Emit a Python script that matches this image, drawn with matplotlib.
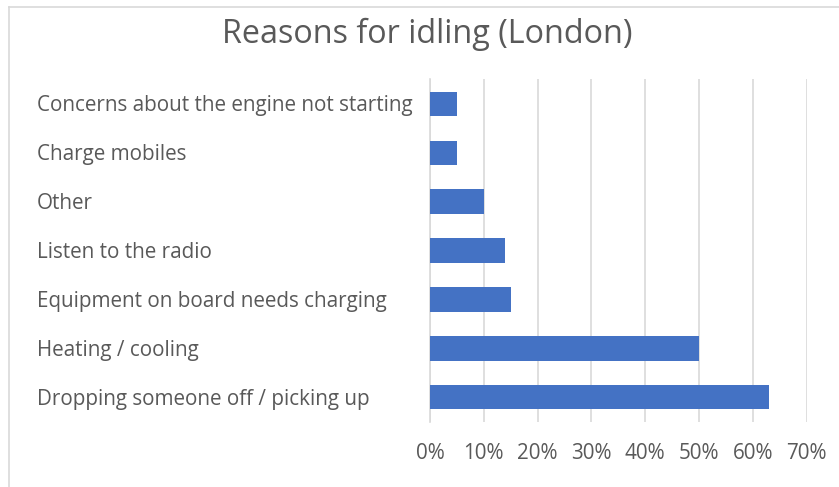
import matplotlib

matplotlib.use("Agg")
import matplotlib.pyplot as plt
from matplotlib.lines import Line2D
from matplotlib.ticker import FuncFormatter, MultipleLocator
from matplotlib.transforms import blended_transform_factory

# survey shares, top row first
reasons = [
    "Concerns about the engine not starting",
    "Charge mobiles",
    "Other",
    "Listen to the radio",
    "Equipment on board needs charging",
    "Heating / cooling",
    "Dropping someone off / picking up",
]
shares = [0.05, 0.05, 0.10, 0.14, 0.15, 0.50, 0.63]

BLUE = "#4472C4"
GRID = "#d9d9d9"
TEXT = "#595959"

plt.rcParams["font.family"] = ["Open Sans", "DejaVu Sans"]

W, H = 839, 487
fig = plt.figure(figsize=(W / 100, H / 100), dpi=100)
ax = fig.add_axes([430 / W, 65.3 / H, 376.7 / W, 342.3 / H])

ypos = list(range(len(reasons)))[::-1]
ax.barh(ypos, shares, height=0.5, color=BLUE, zorder=3)

ax.set_xlim(0, 0.70)
ax.set_ylim(-0.5, len(reasons) - 0.5)
ax.xaxis.set_major_locator(MultipleLocator(0.10))
ax.xaxis.set_major_formatter(FuncFormatter(lambda v, _: f"{v * 100:.0f}%"))
ax.grid(axis="x", color=GRID, lw=1.2, zorder=0)
ax.tick_params(axis="x", length=0, pad=15, labelsize=14.9, labelcolor=TEXT)
ax.tick_params(axis="y", length=0, labelleft=False)
for side in ("top", "right", "bottom"):
    ax.spines[side].set_visible(False)
ax.spines["left"].set_color(GRID)
ax.spines["left"].set_linewidth(1.2)

# category names are left-aligned at a fixed margin
trans = blended_transform_factory(fig.transFigure, ax.transData)
for y, name in zip(ypos, reasons):
    ax.text(37 / W, y - 0.04, name, transform=trans, ha="left", va="center",
            fontsize=14.9, color=TEXT)

fig.text(427 / W, 1 - 34 / H, "Reasons for idling (London)", ha="center",
         va="center", fontsize=23.3, color=TEXT)

# chart frame, only top and left edges fall inside the image
fig.add_artist(Line2D([9 / W, 1], [1 - 7 / H, 1 - 7 / H], transform=fig.transFigure,
                      color=GRID, lw=1.2))
fig.add_artist(Line2D([9 / W, 9 / W], [0, 1 - 7 / H], transform=fig.transFigure,
                      color=GRID, lw=1.2))

fig.savefig("out.png", dpi=100, facecolor="white")
